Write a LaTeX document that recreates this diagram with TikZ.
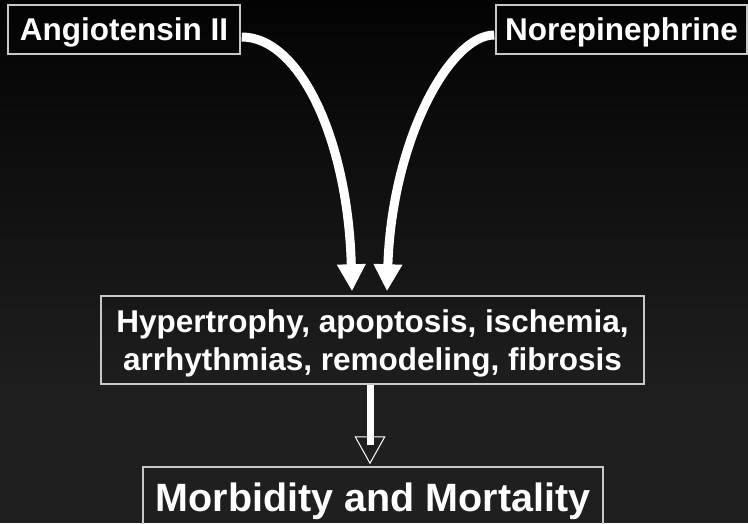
\documentclass[tikz,border=0pt]{standalone}
\usepackage{fontspec}
\setmainfont{Liberation Sans}
\usetikzlibrary{arrows.meta}
\definecolor{bgtop}{RGB}{3,3,3}
\definecolor{bgbot}{RGB}{31,31,31}
\definecolor{boxline}{RGB}{200,200,200}
\begin{document}
\begin{tikzpicture}[x=1pt,y=-1pt,
  box/.style={draw=boxline, line width=1.5pt, inner sep=0pt, text=white,
    font=\bfseries\fontsize{31.5}{38}\selectfont},
  curvearrow/.style={draw=white, line width=9pt, -{Triangle[length=27pt,width=27pt]}},
  openarrow/.style={draw=white, line width=1pt, -{Triangle[open,length=28pt,width=31pt]}, shorten >=2pt},
  shaft/.style={draw=white, line width=7pt}
]
\clip (0,0) rectangle (748,523);
\shade[top color=bgtop, bottom color=bgbot] (0,0) rectangle (748,400);
\fill[bgbot] (0,400) rectangle (748,523);

\node[box, minimum width=232pt, minimum height=49pt, text height=22.55pt, text depth=0pt] (ang) at (124,29.5) {Angiotensin II};
\node[box, minimum width=251pt, minimum height=49pt, text height=22.55pt, text depth=0pt] (nor) at (621.5,29.5) {Norepinephrine};
\node[box, minimum width=543pt, minimum height=88pt] (mid) at (372.5,340)
  {\raisebox{0pt}[60.55pt][0pt]{\parbox[b]{540pt}{\centering Hypertrophy, apoptosis, ischemia,\\ arrhythmias, remodeling, fibrosis}}};
\node[box, font=\bfseries\fontsize{39.5}{47}\selectfont, minimum width=460pt, minimum height=70pt, text height=27.9pt, text depth=8pt] (mor) at (373,502) {Morbidity and Mortality};

\draw[curvearrow] ([shift={(1,7.5)}]ang.east) .. controls (300,37) and (348,140) .. ([shift={(-20.5,-4)}]mid.north);
\draw[curvearrow] ([shift={(-1,5.5)}]nor.west) .. controls (450,35) and (392,140) .. ([shift={(14.5,-4)}]mid.north);

\draw[openarrow] ([xshift=-2.5pt]mid.south) -- ([xshift=-3pt]mor.north);
\coordinate (shaftend) at ([shift={(-2.5,60)}]mid.south);
\draw[shaft] ([xshift=-2.5pt]mid.south) -- (shaftend);
\end{tikzpicture}
\end{document}
